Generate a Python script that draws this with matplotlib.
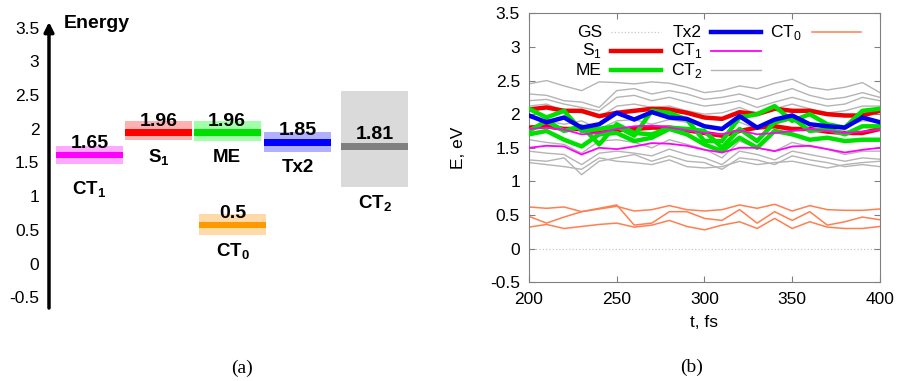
import numpy as np
import matplotlib
matplotlib.use("Agg")
import matplotlib.pyplot as plt

plt.rcParams["font.family"] = ["Liberation Sans", "DejaVu Sans"]
plt.rcParams["mathtext.fontset"] = "custom"
plt.rcParams["mathtext.rm"] = "Liberation Sans"
plt.rcParams["mathtext.bf"] = "Liberation Sans:bold"

# ---- panel (a): energy levels ----
states = [r"$\mathbf{CT_1}$", r"$\mathbf{S_1}$", "ME", r"$\mathbf{CT_0}$", "Tx2", r"$\mathbf{CT_2}$"]
value_labels = ["1.65", "1.96", "1.96", "0.5", "1.85", "1.81"]
level = [1.61, 1.94, 1.94, 0.57, 1.80, 1.74]
band_lo = [1.47, 1.83, 1.82, 0.43, 1.65, 1.13]
band_hi = [1.75, 2.12, 2.11, 0.73, 1.95, 2.56]
line_colors = ["#ff00ff", "#ff0000", "#00e000", "#ff9900", "#0000ff", "#808080"]
band_colors = ["#ffa8ff", "#ffb0b0", "#a0ffa8", "#ffd9a8", "#b0b0ff", "#dadada"]

# ---- panel (b): energies along trajectory ----
t = [200, 210, 220, 230, 240, 250, 260, 270, 280, 290, 300,
     310, 320, 330, 340, 350, 360, 370, 380, 390, 400]
gs = [0.0] * 21
s1_a = [2.07, 2.10, 2.05, 2.05, 1.97, 2.02, 2.05, 2.08, 2.07, 2.02, 1.95,
        1.93, 2.03, 2.00, 2.08, 2.05, 2.05, 2.00, 1.98, 1.98, 2.05]
s1_b = [1.80, 1.82, 1.78, 1.78, 1.72, 1.76, 1.78, 1.80, 1.80, 1.76, 1.72,
        1.68, 1.75, 1.80, 1.82, 1.78, 1.78, 1.74, 1.72, 1.72, 1.78]
me_a = [2.08, 1.95, 2.05, 1.75, 1.78, 1.82, 1.68, 2.05, 2.02, 1.92, 1.60,
        1.60, 1.95, 2.00, 2.12, 1.90, 2.00, 1.85, 1.80, 2.05, 2.08]
me_b = [1.75, 1.90, 1.75, 1.82, 1.55, 1.85, 1.72, 1.70, 1.80, 1.78, 1.75,
        1.50, 1.78, 1.60, 1.88, 1.95, 1.75, 1.78, 1.70, 1.82, 1.82]
me_c = [1.70, 1.75, 1.62, 1.52, 1.70, 1.72, 1.60, 1.65, 1.78, 1.70, 1.55,
        1.45, 1.65, 1.50, 1.75, 1.70, 1.62, 1.65, 1.60, 1.62, 1.62]
tx2 = [1.98, 1.88, 1.95, 1.80, 1.85, 2.02, 1.92, 2.03, 1.95, 1.93, 1.82,
       1.78, 1.97, 1.80, 1.92, 1.98, 1.85, 1.82, 1.80, 1.95, 1.88]
ct1_a = [1.78, 1.80, 1.77, 1.70, 1.72, 1.78, 1.82, 1.83, 1.80, 1.76, 1.72,
         1.70, 1.76, 1.70, 1.72, 1.75, 1.78, 1.75, 1.72, 1.74, 1.77]
ct1_b = [1.50, 1.53, 1.52, 1.40, 1.50, 1.48, 1.52, 1.57, 1.56, 1.53, 1.47,
         1.43, 1.50, 1.50, 1.45, 1.52, 1.53, 1.48, 1.43, 1.47, 1.50]
ct2_1 = [2.45, 2.50, 2.42, 2.35, 2.48, 2.47, 2.45, 2.48, 2.46, 2.40, 2.32,
         2.35, 2.42, 2.38, 2.46, 2.52, 2.40, 2.36, 2.40, 2.47, 2.32]
ct2_2 = [2.30, 2.28, 2.20, 2.18, 2.10, 2.35, 2.38, 2.30, 2.35, 2.30, 2.22,
         2.25, 2.30, 2.22, 2.30, 2.38, 2.28, 2.22, 2.25, 2.32, 2.25]
ct2_3 = [2.20, 2.22, 2.15, 2.10, 2.05, 2.25, 2.28, 2.20, 2.25, 2.18, 2.12,
         2.15, 2.20, 2.10, 2.18, 2.25, 2.18, 2.12, 2.15, 2.25, 2.20]
ct2_4 = [2.12, 2.15, 2.05, 2.02, 1.95, 2.12, 2.15, 2.10, 2.12, 2.05, 2.00,
         2.02, 2.10, 2.00, 2.08, 2.15, 2.08, 2.02, 2.05, 2.12, 2.12]
ct2_5 = [1.95, 1.90, 1.85, 1.90, 1.78, 1.90, 1.92, 1.85, 1.92, 1.88, 1.82,
         1.78, 1.88, 1.78, 1.85, 1.92, 1.85, 1.80, 1.82, 1.90, 1.90]
ct2_6 = [1.62, 1.58, 1.55, 1.42, 1.60, 1.62, 1.58, 1.50, 1.62, 1.55, 1.48,
         1.35, 1.60, 1.50, 1.45, 1.58, 1.52, 1.48, 1.40, 1.45, 1.45]
ct2_7 = [1.45, 1.42, 1.40, 1.25, 1.42, 1.45, 1.42, 1.38, 1.48, 1.40, 1.35,
         1.25, 1.45, 1.40, 1.32, 1.45, 1.40, 1.35, 1.30, 1.35, 1.33]
ct2_8 = [1.32, 1.30, 1.35, 1.10, 1.30, 1.35, 1.40, 1.30, 1.38, 1.30, 1.28,
         1.18, 1.35, 1.32, 1.25, 1.38, 1.32, 1.28, 1.22, 1.25, 1.22]
ct2_9 = [1.28, 1.25, 1.22, 1.18, 1.35, 1.30, 1.28, 1.25, 1.32, 1.22, 1.20,
         1.22, 1.30, 1.25, 1.28, 1.30, 1.25, 1.20, 1.25, 1.28, 1.30]
ct0_a = [0.62, 0.60, 0.62, 0.55, 0.59, 0.63, 0.56, 0.58, 0.64, 0.58, 0.56,
         0.58, 0.65, 0.60, 0.66, 0.56, 0.64, 0.58, 0.57, 0.57, 0.59]
ct0_b = [0.48, 0.38, 0.47, 0.55, 0.60, 0.65, 0.35, 0.38, 0.55, 0.55, 0.45,
         0.42, 0.58, 0.38, 0.55, 0.42, 0.55, 0.35, 0.40, 0.47, 0.43]
ct0_c = [0.32, 0.36, 0.30, 0.33, 0.36, 0.38, 0.32, 0.35, 0.42, 0.33, 0.28,
         0.35, 0.40, 0.30, 0.45, 0.30, 0.40, 0.32, 0.30, 0.30, 0.33]

fig = plt.figure(figsize=(8.99, 3.81), dpi=100)

# ---------- (a) ----------
ax1 = fig.add_axes([0.0545, 0.1916, 0.407, 0.7507])
xpos = [0, 0.99, 1.98, 2.06, 2.99, 4.10]
name_off = [-18, -12, -12, -12, -11, -11]
ax1.set_xlim(-0.583, 4.68)
ax1.set_ylim(-0.66, 3.585)

ax1.bar(xpos, np.array(band_hi) - np.array(band_lo), bottom=band_lo, width=0.96,
        color=band_colors, edgecolor="none", zorder=1)
ax1.bar(xpos, 0.1, bottom=np.array(level) - 0.05, width=0.96,
        color=line_colors, edgecolor="none", zorder=2)
for i in range(len(states)):
    ax1.annotate(value_labels[i], (xpos[i], level[i]), xytext=(0, 8.5),
                 textcoords="offset points", ha="center", va="center",
                 fontsize=14, fontweight="bold", zorder=3)
    ax1.annotate(states[i], (xpos[i], band_lo[i]), xytext=(0, name_off[i]),
                 textcoords="offset points", ha="center", va="center",
                 fontsize=13.5, fontweight="bold")

for s in ax1.spines.values():
    s.set_visible(False)
ax1.set_xticks([])
ax1.set_yticks(np.arange(-0.5, 3.51, 0.5))
ax1.set_yticklabels(["-0.5", "0", "0.5", "1", "1.5", "2", "2.5", "3", "3.5"])
ax1.tick_params(axis="y", length=0, pad=7, labelsize=12.5)
ax1.annotate("", xy=(0, 1.0), xytext=(0, 0.0), xycoords="axes fraction",
             arrowprops=dict(arrowstyle="-|>", lw=2.5, color="k",
                             mutation_scale=14, shrinkA=0, shrinkB=0))
ax1.text(0.04, 0.995, "Energy", transform=ax1.transAxes, fontsize=14,
         fontweight="bold", va="center", ha="left")

# ---------- (b) ----------
ax2 = fig.add_axes([0.5884, 0.2591, 0.3904, 0.706])
gray = "#b4b4b4"
for y in [ct2_1, ct2_2, ct2_3, ct2_4, ct2_5, ct2_6, ct2_7, ct2_8, ct2_9]:
    ax2.plot(t, y, color=gray, lw=1.0, zorder=1)
ax2.plot(t, gs, color="#c8c8c8", lw=0.9, ls=":", zorder=1)
for y in [ct0_a, ct0_b, ct0_c]:
    ax2.plot(t, y, color="#ff7f50", lw=1.1, zorder=2)
for y in [s1_a, s1_b]:
    ax2.plot(t, y, color="#ee0000", lw=3.2, zorder=3, solid_joinstyle="round")
for y in [me_a, me_b, me_c]:
    ax2.plot(t, y, color="#00e000", lw=3.2, zorder=4, solid_joinstyle="round")
ax2.plot(t, tx2, color="#0000ee", lw=3.2, zorder=5, solid_joinstyle="round")
for y in [ct1_a, ct1_b]:
    ax2.plot(t, y, color="#ff00ff", lw=1.3, zorder=6)

ax2.set_xlim(200, 400)
ax2.set_ylim(-0.5, 3.5)
ax2.set_xticks([200, 250, 300, 350, 400])
ax2.set_yticks(np.arange(-0.5, 3.51, 0.5))
ax2.set_yticklabels(["-0.5", "0", "0.5", "1", "1.5", "2", "2.5", "3", "3.5"])
ax2.tick_params(direction="in", length=4, color="#808080", top=True, right=True,
                labelsize=12.5)
ax2.tick_params(axis="y", pad=6.5)
ax2.tick_params(axis="x", pad=7)
for s in ax2.spines.values():
    s.set_color("#808080")
ax2.set_xlabel("t, fs", fontsize=12.5)
ax2.xaxis.set_label_coords(0.5, -0.15)
ax2.xaxis.label.set_va("center")
ax2.set_ylabel("E, eV", fontsize=12.5)
ax2.yaxis.set_label_coords(-0.202, 0.5)
ax2.yaxis.label.set_va("center")

# legend, gnuplot style: text right-aligned, sample to its right
leg_names = ["GS", r"S$_1$", "ME", "Tx2", r"CT$_1$", r"CT$_2$", r"CT$_0$"]
leg_styles = [("#c8c8c8", 0.9, ":"), ("#ee0000", 3.2, "-"), ("#00e000", 3.2, "-"),
              ("#0000ee", 3.2, "-"), ("#ff00ff", 1.3, "-"), (gray, 1.0, "-"),
              ("#ff7f50", 1.1, "-")]
col_x = [0.208, 0.493, 0.778]
row_y = [0.930, 0.860, 0.789]
for k, name in enumerate(leg_names):
    c, r = k // 3, k % 3
    ax2.text(col_x[c], row_y[r], name, transform=ax2.transAxes, ha="right",
             va="center", fontsize=12.5)
    col, lw, ls = leg_styles[k]
    ax2.plot([col_x[c] + 0.027, col_x[c] + 0.167], [row_y[r], row_y[r]],
             transform=ax2.transAxes, color=col, lw=lw, ls=ls)

fig.text(242 / 899, 1 - 368 / 381, "(a)", family="Liberation Serif",
         fontsize=14, ha="center", va="center")
fig.text(692 / 899, 1 - 367 / 381, "(b)", family="Liberation Serif",
         fontsize=14, ha="center", va="center")

fig.savefig("out.png", dpi=100)
